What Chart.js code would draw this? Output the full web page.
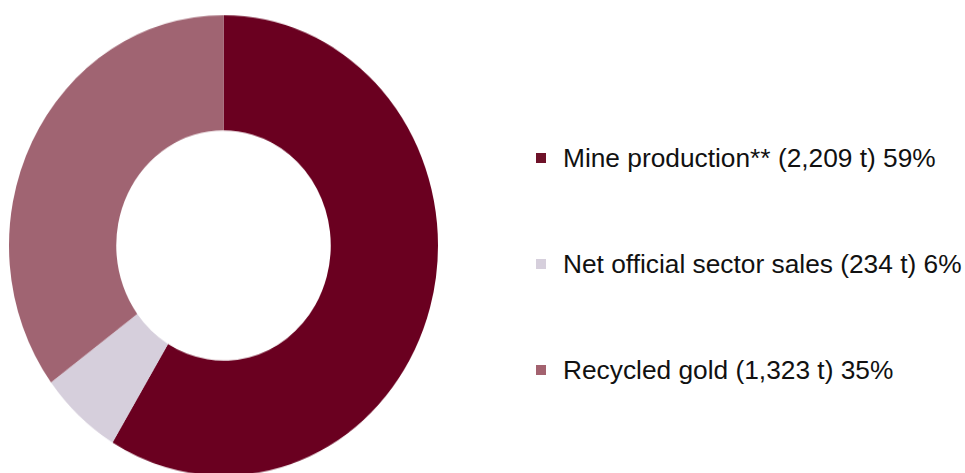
<!DOCTYPE html>
<html>
<head>
<meta charset="utf-8">
<script src="https://cdn.jsdelivr.net/npm/chart.js@4/dist/chart.umd.min.js"></script>
<style>
  html, body { margin: 0; padding: 0; background: #fff; }
  body { width: 965px; height: 473px; position: relative; overflow: hidden; }
  #supply { position: absolute; left: 6px; top: 11.7px; }
  #legend { position: absolute; left: 536px; top: 0; font-family: "Liberation Sans", Arial, sans-serif;
            font-size: 26.3px; color: #111; }
  .item { position: absolute; left: 0; white-space: nowrap; height: 30px; line-height: 30px; }
  .swatch { position: absolute; left: 0; top: 10px; width: 10px; height: 10px; }
  .text { position: absolute; left: 27px; top: 0; }
</style>
</head>
<body>
<!-- ring is drawn on a square canvas, then stretched a bit taller (inline size so Chart.js keeps it) -->
<canvas id="supply" width="435" height="435" style="width:435px;height:467.6px"></canvas>
<div id="legend"></div>
<script>
// gold supply, tonnes
var labels  = ['Mine production**', 'Net official sector sales', 'Recycled gold'];
var tonnes  = [2209, 234, 1323];
var colours = ['#6a0020', '#d6cfdc', '#a06472'];
var swatches = ['#6e1229', '#d6cfdc', '#a3626f'];

var total = tonnes.reduce(function (a, b) { return a + b; }, 0);
var shares = tonnes.map(function (t) { return Math.round(t / total * 100); });

var ctx = document.getElementById('supply').getContext('2d');
var chart = new Chart(ctx, {
  type: 'doughnut',
  data: {
    labels: labels,
    datasets: [{
      data: tonnes,
      backgroundColor: colours,
      borderWidth: 0,
      hoverOffset: 0
    }]
  },
  options: {
    responsive: false,
    animation: false,
    devicePixelRatio: 1,
    cutout: '50%',
    layout: { padding: 3 },
    plugins: {
      legend: { display: false },
      tooltip: { enabled: false }
    }
  }
});

// legend built from the same arrays, one row every 106px
var legend = document.getElementById('legend');
labels.forEach(function (label, i) {
  var row = document.createElement('div');
  row.className = 'item';
  row.style.top = (143.2 + i * 106) + 'px';
  var box = document.createElement('span');
  box.className = 'swatch';
  box.style.background = swatches[i];
  var txt = document.createElement('span');
  txt.className = 'text';
  txt.textContent = label + ' (' + tonnes[i].toLocaleString('en-US') + ' t) ' + shares[i] + '%';
  row.appendChild(box);
  row.appendChild(txt);
  legend.appendChild(row);
});
</script>
</body>
</html>
